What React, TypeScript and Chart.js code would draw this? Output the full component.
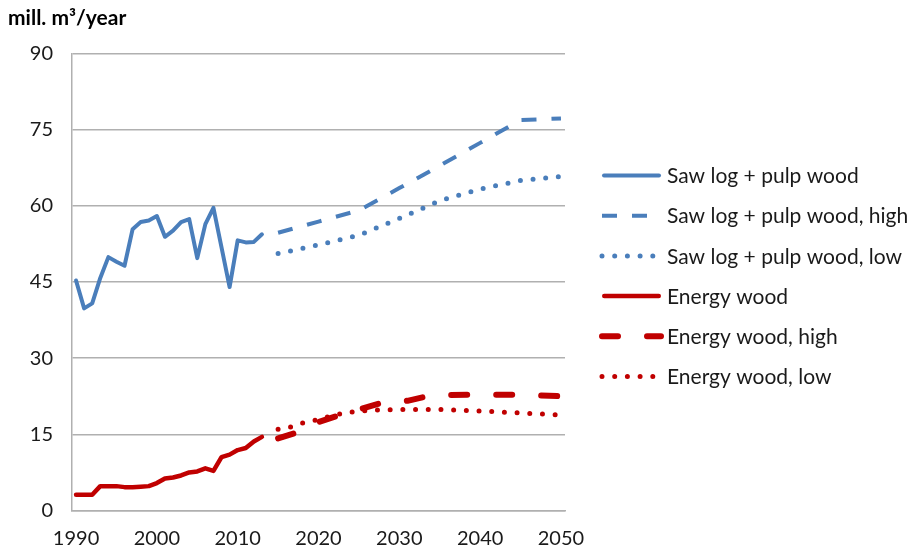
import { useEffect, useRef } from "react";
import { Chart, registerables } from "chart.js";

Chart.register(...registerables);

// Historic data (annual)
const histYears = [1990, 1991, 1992, 1993, 1994, 1995, 1996, 1997, 1998, 1999, 2000, 2001, 2002, 2003, 2004, 2005, 2006, 2007, 2008, 2009, 2010, 2011, 2012, 2013];
const sawPulp = [45.3, 39.8, 40.8, 45.8, 49.9, 49.0, 48.2, 55.4, 56.8, 57.1, 58.0, 53.9, 55.1, 56.8, 57.4, 49.7, 56.4, 59.6, 51.8, 44.0, 53.2, 52.8, 52.9, 54.4];
const energy = [3.1, 3.1, 3.1, 4.8, 4.8, 4.8, 4.6, 4.6, 4.7, 4.8, 5.4, 6.3, 6.5, 6.9, 7.5, 7.7, 8.3, 7.8, 10.5, 11.0, 11.9, 12.3, 13.6, 14.5];

// Projections
const sawProjYears = [2015, 2020, 2025, 2030, 2035, 2040, 2045, 2050];
const sawHigh = [54.7, 56.9, 59.1, 63.5, 67.9, 72.4, 76.9, 77.2];
const sawLow = [50.6, 52.3, 54.2, 57.5, 61.0, 63.3, 65.0, 65.8];

const energyHighYears = [2015, 2017, 2020, 2023, 2025, 2028, 2031, 2034, 2040, 2045, 2050];
const energyHigh = [14.2, 15.2, 17.4, 19.0, 19.9, 21.3, 21.6, 22.7, 22.8, 22.8, 22.5];
const energyLowYears = [2015, 2017, 2018, 2020, 2022, 2024, 2027, 2030, 2035, 2040, 2045, 2050];
const energyLow = [16.0, 16.6, 17.2, 17.9, 18.8, 19.4, 19.8, 19.9, 19.9, 19.6, 19.2, 18.8];

const xTicks = [1990, 2000, 2010, 2020, 2030, 2040, 2050];
const yTitle = "mill. m³/year";
const seriesNames = [
  "Saw log + pulp wood",
  "Saw log + pulp wood, high",
  "Saw log + pulp wood, low",
  "Energy wood",
  "Energy wood, high",
  "Energy wood, low",
];

const BLUE = "#4a7ebb";
const RED = "#c00000";
const GRID = "#b0b0b0";
const TEXT = "#1a1a1a";
const FONT = "Lato, 'Open Sans', sans-serif";

const pts = (xs: number[], ys: number[]) => xs.map((x, i) => ({ x, y: ys[i] }));

// Legend drawn to the right of the chart area (Chart.js caps side legend width)
const sideLegend = {
  id: "sideLegend",
  afterDraw(chart: any) {
    const ctx = chart.ctx as CanvasRenderingContext2D;
    const area = chart.chartArea;
    const x0 = area.right + 37;
    const sampleW = 59;
    const gap = 6;
    const rowH = 40.2;
    const n = chart.data.datasets.length;
    const yMid = (area.top + area.bottom) / 2 - 6;
    const y0 = yMid - ((n - 1) * rowH) / 2;
    chart.data.datasets.forEach((ds: any, i: number) => {
      const y = y0 + i * rowH;
      const inset = ds.borderCapStyle === "round" && !ds.borderDash ? ds.borderWidth / 2 : 0;
      ctx.save();
      ctx.strokeStyle = ds.borderColor;
      ctx.lineWidth = ds.borderWidth;
      ctx.setLineDash(ds.borderDash || []);
      ctx.lineCap = ds.borderCapStyle || "butt";
      ctx.beginPath();
      ctx.moveTo(x0 + inset, y);
      ctx.lineTo(x0 + sampleW - inset, y);
      ctx.stroke();
      ctx.setLineDash([]);
      ctx.fillStyle = TEXT;
      ctx.font = `21px ${FONT}`;
      ctx.textBaseline = "middle";
      ctx.textAlign = "left";
      ctx.fillText(ds.label, x0 + sampleW + gap, y + 1);
      ctx.restore();
    });
  },
};

export default function App() {
  const ref = useRef<HTMLCanvasElement>(null);

  useEffect(() => {
    const font = { family: FONT, size: 20 };
    const chart = new Chart(ref.current!, {
      type: "line",
      data: {
        datasets: [
          { label: seriesNames[0], data: pts(histYears, sawPulp), borderColor: BLUE, borderWidth: 4, borderCapStyle: "round" },
          { label: seriesNames[1], data: pts(sawProjYears, sawHigh), borderColor: BLUE, borderWidth: 4, borderDash: [15, 15], borderCapStyle: "butt" },
          { label: seriesNames[2], data: pts(sawProjYears, sawLow), borderColor: BLUE, borderWidth: 5, borderDash: [0, 12.7], borderCapStyle: "round" },
          { label: seriesNames[3], data: pts(histYears, energy), borderColor: RED, borderWidth: 4.5, borderCapStyle: "round" },
          { label: seriesNames[4], data: pts(energyHighYears, energyHigh), borderColor: RED, borderWidth: 6, borderDash: [16, 29], borderCapStyle: "round" },
          { label: seriesNames[5], data: pts(energyLowYears, energyLow), borderColor: RED, borderWidth: 5, borderDash: [0, 12.7], borderCapStyle: "round" },
        ] as any,
      },
      options: {
        animation: false,
        responsive: false,
        maintainAspectRatio: false,
        layout: { padding: { left: 8, right: 346, top: 0, bottom: 0 } },
        elements: {
          point: { radius: 0, hoverRadius: 0 },
          line: { tension: 0, borderJoinStyle: "round", fill: false },
        },
        plugins: {
          title: {
            display: true,
            text: yTitle,
            align: "start",
            color: "#000",
            font: { family: FONT, size: 21, weight: "bold", lineHeight: 1.2 },
            padding: { top: 6, bottom: 22.3 },
          },
          legend: { display: false },
          tooltip: { enabled: false },
        },
        scales: {
          x: {
            type: "linear",
            min: 1989.5,
            max: 2050.5,
            afterBuildTicks: (s: any) => {
              s.ticks = xTicks.map((v) => ({ value: v }));
            },
            afterFit: (s: any) => {
              s.height = 41.5;
              s.paddingLeft = 0;
              s.paddingRight = 0;
            },
            grid: { display: false, drawTicks: false },
            border: { display: true, color: GRID, width: 1.5 },
            ticks: { padding: 16, color: TEXT, font, maxRotation: 0, callback: (v: any) => String(v) },
          },
          y: {
            min: 0,
            max: 90,
            afterFit: (s: any) => {
              s.width = 64;
            },
            grid: { color: GRID, lineWidth: 1.5, drawTicks: false },
            border: { display: true, color: GRID, width: 1.5 },
            ticks: { stepSize: 15, padding: 19, color: TEXT, font },
          },
        },
      } as any,
      plugins: [sideLegend],
    });
    return () => chart.destroy();
  }, []);

  return (
    <div style={{ position: "absolute", left: 0, top: 0, width: 911, height: 552, background: "#fff" }}>
      <canvas ref={ref} width={911} height={552} style={{ display: "block" }} />
    </div>
  );
}
